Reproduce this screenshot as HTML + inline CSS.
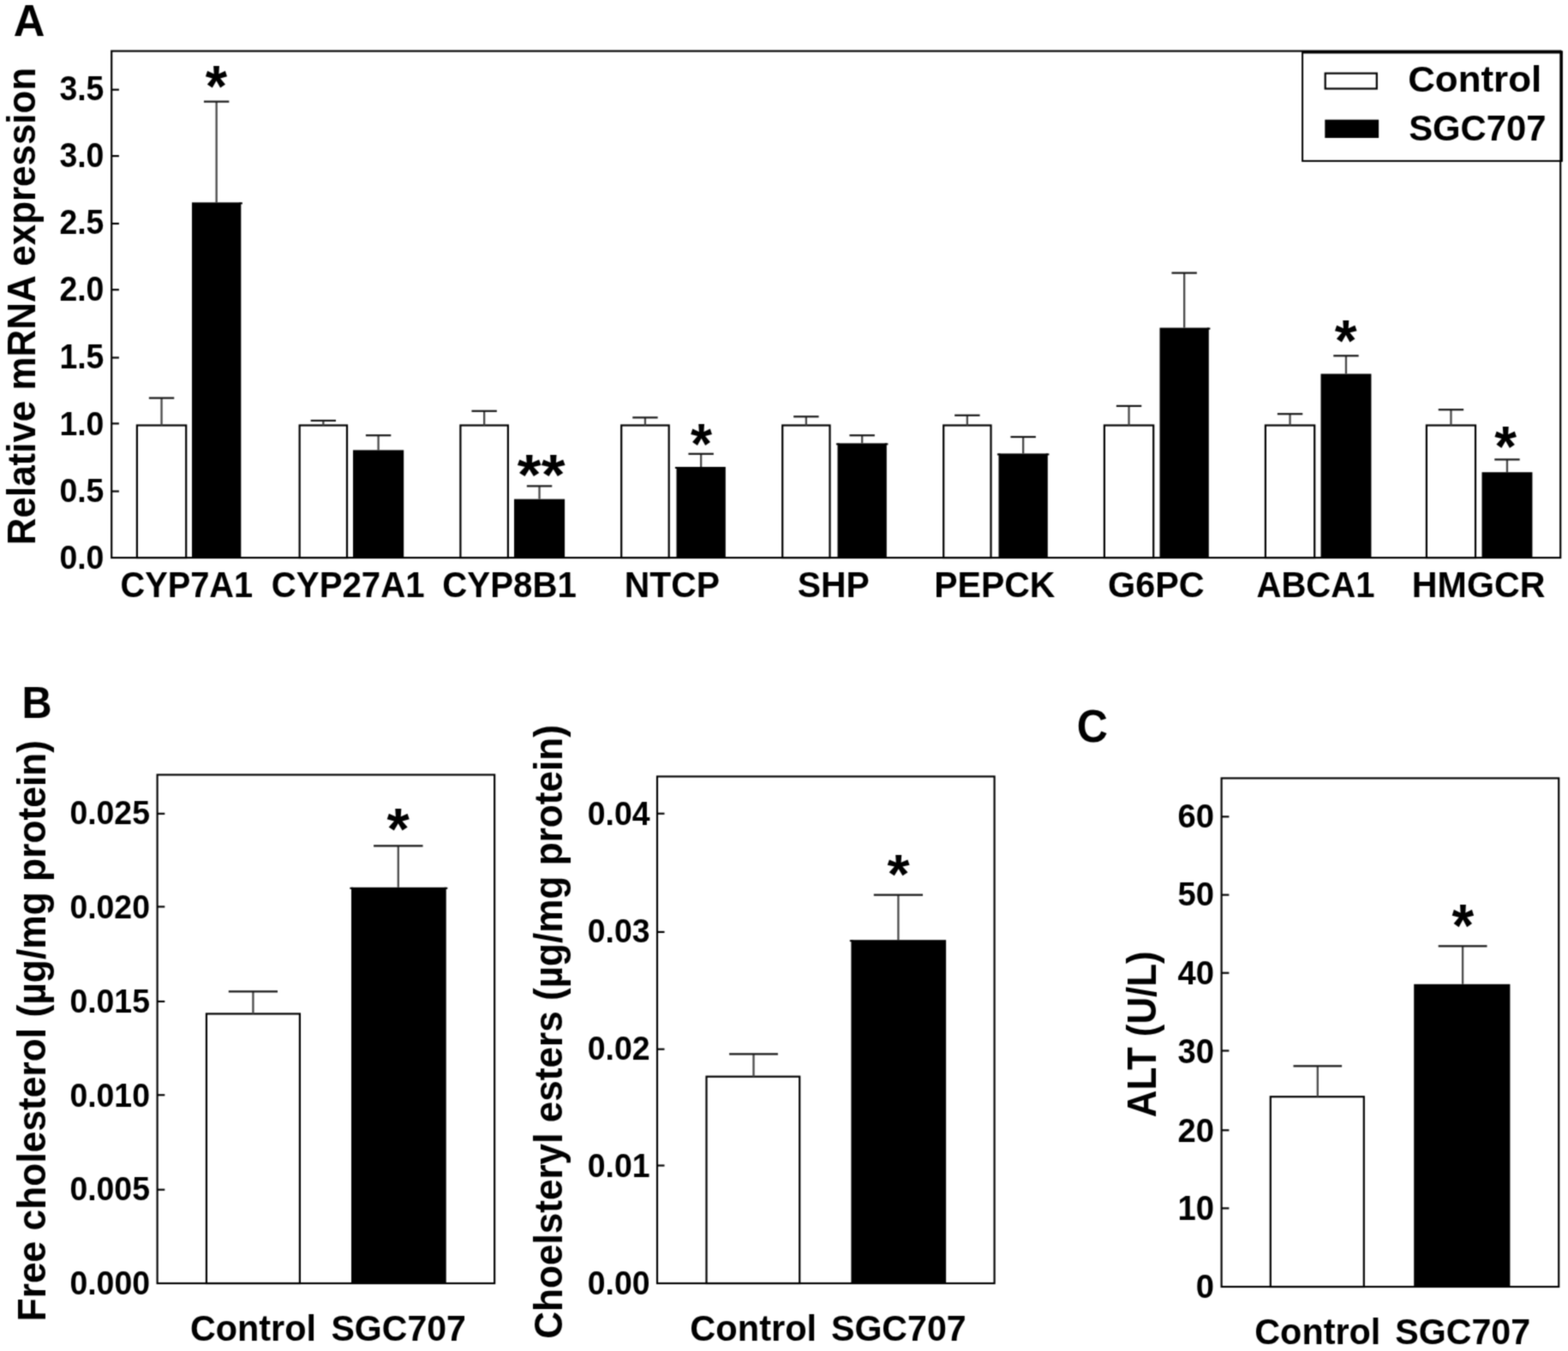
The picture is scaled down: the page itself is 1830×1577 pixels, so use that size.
<!DOCTYPE html>
<html><head><meta charset="utf-8"><title>Figure</title>
<style>html,body{margin:0;padding:0;background:#fff;}svg{display:block;}
text{font-family:"Liberation Sans", Arial, sans-serif;font-weight:bold;font-size:100px;fill:#000;}</style></head>
<body><svg width="1830" height="1577" viewBox="0 0 1830 1577">
<defs><filter id="soft" filterUnits="userSpaceOnUse" x="-10" y="-10" width="1850" height="1597" color-interpolation-filters="sRGB"><feConvolveMatrix order="3" kernelMatrix="0.0400 0.1200 0.0400 0.1200 0.3600 0.1200 0.0400 0.1200 0.0400" edgeMode="duplicate" preserveAlpha="true"/></filter></defs>
<rect width="1830" height="1577" fill="#fff"/>
<g filter="url(#soft)">
<rect x="-10" y="-10" width="1850" height="1597" fill="#fff"/>
<rect x="130.20" y="59.60" width="1691.00" height="591.40" fill="none" stroke="#000" stroke-width="2.15"/>
<line x1="130.20" y1="573.50" x2="138.90" y2="573.50" stroke="#000" stroke-width="2.15" stroke-linecap="butt"/>
<line x1="130.20" y1="494.40" x2="138.90" y2="494.40" stroke="#000" stroke-width="2.15" stroke-linecap="butt"/>
<line x1="130.20" y1="417.50" x2="138.90" y2="417.50" stroke="#000" stroke-width="2.15" stroke-linecap="butt"/>
<line x1="130.20" y1="338.20" x2="138.90" y2="338.20" stroke="#000" stroke-width="2.15" stroke-linecap="butt"/>
<line x1="130.20" y1="261.00" x2="138.90" y2="261.00" stroke="#000" stroke-width="2.15" stroke-linecap="butt"/>
<line x1="130.20" y1="182.10" x2="138.90" y2="182.10" stroke="#000" stroke-width="2.15" stroke-linecap="butt"/>
<line x1="130.20" y1="104.70" x2="138.90" y2="104.70" stroke="#000" stroke-width="2.15" stroke-linecap="butt"/>
<rect x="159.90" y="496.50" width="57.30" height="154.50" fill="#fff" stroke="#000" stroke-width="2.2"/>
<rect x="224.00" y="236.30" width="57.30" height="414.70" fill="#000" stroke="none" stroke-width="0"/>
<line x1="279.30" y1="237.30" x2="282.90" y2="237.30" stroke="#000" stroke-width="2.0" stroke-linecap="butt"/>
<line x1="188.55" y1="496.50" x2="188.55" y2="464.60" stroke="#484848" stroke-width="2.3" stroke-linecap="butt"/>
<line x1="173.85" y1="464.60" x2="203.25" y2="464.60" stroke="#161616" stroke-width="2.2" stroke-linecap="butt"/>
<line x1="252.65" y1="236.30" x2="252.65" y2="118.60" stroke="#484848" stroke-width="2.3" stroke-linecap="butt"/>
<line x1="237.95" y1="118.60" x2="267.35" y2="118.60" stroke="#161616" stroke-width="2.2" stroke-linecap="butt"/>
<rect x="349.65" y="496.50" width="55.35" height="154.50" fill="#fff" stroke="#000" stroke-width="2.2"/>
<rect x="412.00" y="525.40" width="59.20" height="125.60" fill="#000" stroke="none" stroke-width="0"/>
<line x1="377.33" y1="496.50" x2="377.33" y2="491.00" stroke="#484848" stroke-width="2.3" stroke-linecap="butt"/>
<line x1="362.63" y1="491.00" x2="392.03" y2="491.00" stroke="#161616" stroke-width="2.2" stroke-linecap="butt"/>
<line x1="441.60" y1="525.40" x2="441.60" y2="508.20" stroke="#484848" stroke-width="2.3" stroke-linecap="butt"/>
<line x1="426.90" y1="508.20" x2="456.30" y2="508.20" stroke="#161616" stroke-width="2.2" stroke-linecap="butt"/>
<rect x="537.40" y="496.50" width="55.50" height="154.50" fill="#fff" stroke="#000" stroke-width="2.2"/>
<rect x="600.00" y="582.60" width="59.10" height="68.40" fill="#000" stroke="none" stroke-width="0"/>
<line x1="565.15" y1="496.50" x2="565.15" y2="479.80" stroke="#484848" stroke-width="2.3" stroke-linecap="butt"/>
<line x1="550.45" y1="479.80" x2="579.85" y2="479.80" stroke="#161616" stroke-width="2.2" stroke-linecap="butt"/>
<line x1="629.55" y1="582.60" x2="629.55" y2="567.40" stroke="#484848" stroke-width="2.3" stroke-linecap="butt"/>
<line x1="614.85" y1="567.40" x2="644.25" y2="567.40" stroke="#161616" stroke-width="2.2" stroke-linecap="butt"/>
<rect x="725.20" y="496.50" width="55.50" height="154.50" fill="#fff" stroke="#000" stroke-width="2.2"/>
<rect x="789.50" y="545.00" width="57.30" height="106.00" fill="#000" stroke="none" stroke-width="0"/>
<line x1="787.90" y1="546.00" x2="791.50" y2="546.00" stroke="#000" stroke-width="2.0" stroke-linecap="butt"/>
<line x1="752.95" y1="496.50" x2="752.95" y2="487.40" stroke="#484848" stroke-width="2.3" stroke-linecap="butt"/>
<line x1="738.25" y1="487.40" x2="767.65" y2="487.40" stroke="#161616" stroke-width="2.2" stroke-linecap="butt"/>
<line x1="818.15" y1="545.00" x2="818.15" y2="529.80" stroke="#484848" stroke-width="2.3" stroke-linecap="butt"/>
<line x1="803.45" y1="529.80" x2="832.85" y2="529.80" stroke="#161616" stroke-width="2.2" stroke-linecap="butt"/>
<rect x="913.20" y="496.50" width="55.30" height="154.50" fill="#fff" stroke="#000" stroke-width="2.2"/>
<rect x="977.50" y="517.40" width="57.30" height="133.60" fill="#000" stroke="none" stroke-width="0"/>
<line x1="975.90" y1="518.40" x2="979.50" y2="518.40" stroke="#000" stroke-width="2.0" stroke-linecap="butt"/>
<line x1="1032.80" y1="518.40" x2="1036.40" y2="518.40" stroke="#000" stroke-width="2.0" stroke-linecap="butt"/>
<line x1="940.85" y1="496.50" x2="940.85" y2="486.30" stroke="#484848" stroke-width="2.3" stroke-linecap="butt"/>
<line x1="926.15" y1="486.30" x2="955.55" y2="486.30" stroke="#161616" stroke-width="2.2" stroke-linecap="butt"/>
<line x1="1006.15" y1="517.40" x2="1006.15" y2="508.20" stroke="#484848" stroke-width="2.3" stroke-linecap="butt"/>
<line x1="991.45" y1="508.20" x2="1020.85" y2="508.20" stroke="#161616" stroke-width="2.2" stroke-linecap="butt"/>
<rect x="1101.20" y="496.50" width="55.30" height="154.50" fill="#fff" stroke="#000" stroke-width="2.2"/>
<rect x="1165.50" y="529.40" width="57.30" height="121.60" fill="#000" stroke="none" stroke-width="0"/>
<line x1="1163.90" y1="530.40" x2="1167.50" y2="530.40" stroke="#000" stroke-width="2.0" stroke-linecap="butt"/>
<line x1="1220.80" y1="530.40" x2="1224.40" y2="530.40" stroke="#000" stroke-width="2.0" stroke-linecap="butt"/>
<line x1="1128.85" y1="496.50" x2="1128.85" y2="484.80" stroke="#484848" stroke-width="2.3" stroke-linecap="butt"/>
<line x1="1114.15" y1="484.80" x2="1143.55" y2="484.80" stroke="#161616" stroke-width="2.2" stroke-linecap="butt"/>
<line x1="1194.15" y1="529.40" x2="1194.15" y2="510.00" stroke="#484848" stroke-width="2.3" stroke-linecap="butt"/>
<line x1="1179.45" y1="510.00" x2="1208.85" y2="510.00" stroke="#161616" stroke-width="2.2" stroke-linecap="butt"/>
<rect x="1288.90" y="496.50" width="57.30" height="154.50" fill="#fff" stroke="#000" stroke-width="2.2"/>
<rect x="1353.50" y="382.60" width="57.30" height="268.40" fill="#000" stroke="none" stroke-width="0"/>
<line x1="1408.80" y1="383.60" x2="1412.40" y2="383.60" stroke="#000" stroke-width="2.0" stroke-linecap="butt"/>
<line x1="1317.55" y1="496.50" x2="1317.55" y2="473.90" stroke="#484848" stroke-width="2.3" stroke-linecap="butt"/>
<line x1="1302.85" y1="473.90" x2="1332.25" y2="473.90" stroke="#161616" stroke-width="2.2" stroke-linecap="butt"/>
<line x1="1382.15" y1="382.60" x2="1382.15" y2="318.60" stroke="#484848" stroke-width="2.3" stroke-linecap="butt"/>
<line x1="1367.45" y1="318.60" x2="1396.85" y2="318.60" stroke="#161616" stroke-width="2.2" stroke-linecap="butt"/>
<rect x="1476.90" y="496.50" width="57.30" height="154.50" fill="#fff" stroke="#000" stroke-width="2.2"/>
<rect x="1541.50" y="436.40" width="58.90" height="214.60" fill="#000" stroke="none" stroke-width="0"/>
<line x1="1505.55" y1="496.50" x2="1505.55" y2="483.20" stroke="#484848" stroke-width="2.3" stroke-linecap="butt"/>
<line x1="1490.85" y1="483.20" x2="1520.25" y2="483.20" stroke="#161616" stroke-width="2.2" stroke-linecap="butt"/>
<line x1="1570.95" y1="436.40" x2="1570.95" y2="415.30" stroke="#484848" stroke-width="2.3" stroke-linecap="butt"/>
<line x1="1556.25" y1="415.30" x2="1585.65" y2="415.30" stroke="#161616" stroke-width="2.2" stroke-linecap="butt"/>
<rect x="1664.90" y="496.50" width="57.10" height="154.50" fill="#fff" stroke="#000" stroke-width="2.2"/>
<rect x="1729.50" y="551.20" width="58.90" height="99.80" fill="#000" stroke="none" stroke-width="0"/>
<line x1="1693.45" y1="496.50" x2="1693.45" y2="478.20" stroke="#484848" stroke-width="2.3" stroke-linecap="butt"/>
<line x1="1678.75" y1="478.20" x2="1708.15" y2="478.20" stroke="#161616" stroke-width="2.2" stroke-linecap="butt"/>
<line x1="1758.95" y1="551.20" x2="1758.95" y2="536.40" stroke="#484848" stroke-width="2.3" stroke-linecap="butt"/>
<line x1="1744.25" y1="536.40" x2="1773.65" y2="536.40" stroke="#161616" stroke-width="2.2" stroke-linecap="butt"/>
<rect x="1520.10" y="60.50" width="302.10" height="127.40" fill="#fff" stroke="#000" stroke-width="2"/>
<line x1="1520.10" y1="61.00" x2="1823.50" y2="61.00" stroke="#000" stroke-width="3.2" stroke-linecap="butt"/>
<line x1="1822.10" y1="59.50" x2="1822.10" y2="188.80" stroke="#000" stroke-width="3.6" stroke-linecap="butt"/>
<rect x="1546.70" y="85.60" width="60.10" height="17.90" fill="#fff" stroke="#000" stroke-width="2.2"/>
<rect x="1546.30" y="139.70" width="62.80" height="21.30" fill="#000" stroke="none" stroke-width="0"/>
<rect x="183.60" y="904.40" width="393.55" height="593.60" fill="none" stroke="#000" stroke-width="2.15"/>
<line x1="183.60" y1="1388.70" x2="192.30" y2="1388.70" stroke="#000" stroke-width="2.15" stroke-linecap="butt"/>
<line x1="183.60" y1="1278.20" x2="192.30" y2="1278.20" stroke="#000" stroke-width="2.15" stroke-linecap="butt"/>
<line x1="183.60" y1="1169.00" x2="192.30" y2="1169.00" stroke="#000" stroke-width="2.15" stroke-linecap="butt"/>
<line x1="183.60" y1="1058.40" x2="192.30" y2="1058.40" stroke="#000" stroke-width="2.15" stroke-linecap="butt"/>
<line x1="183.60" y1="949.80" x2="192.30" y2="949.80" stroke="#000" stroke-width="2.15" stroke-linecap="butt"/>
<rect x="240.95" y="1183.40" width="108.95" height="314.60" fill="#fff" stroke="#000" stroke-width="2.2"/>
<rect x="410.00" y="1035.80" width="110.70" height="462.20" fill="#000" stroke="none" stroke-width="0"/>
<line x1="408.40" y1="1036.80" x2="412.00" y2="1036.80" stroke="#000" stroke-width="2.0" stroke-linecap="butt"/>
<line x1="518.70" y1="1036.80" x2="522.30" y2="1036.80" stroke="#000" stroke-width="2.0" stroke-linecap="butt"/>
<line x1="295.40" y1="1183.40" x2="295.40" y2="1157.30" stroke="#484848" stroke-width="2.3" stroke-linecap="butt"/>
<line x1="266.80" y1="1157.30" x2="324.00" y2="1157.30" stroke="#161616" stroke-width="2.2" stroke-linecap="butt"/>
<line x1="464.80" y1="1035.80" x2="464.80" y2="987.40" stroke="#484848" stroke-width="2.3" stroke-linecap="butt"/>
<line x1="436.10" y1="987.40" x2="493.50" y2="987.40" stroke="#161616" stroke-width="2.2" stroke-linecap="butt"/>
<rect x="767.00" y="906.40" width="393.60" height="591.60" fill="none" stroke="#000" stroke-width="2.15"/>
<line x1="767.00" y1="1360.50" x2="775.50" y2="1360.50" stroke="#000" stroke-width="2.15" stroke-linecap="butt"/>
<line x1="767.00" y1="1224.70" x2="775.50" y2="1224.70" stroke="#000" stroke-width="2.15" stroke-linecap="butt"/>
<line x1="767.00" y1="1087.90" x2="775.50" y2="1087.90" stroke="#000" stroke-width="2.15" stroke-linecap="butt"/>
<line x1="767.00" y1="949.70" x2="775.50" y2="949.70" stroke="#000" stroke-width="2.15" stroke-linecap="butt"/>
<rect x="824.50" y="1256.70" width="108.70" height="241.30" fill="#fff" stroke="#000" stroke-width="2.2"/>
<rect x="993.40" y="1097.20" width="110.70" height="400.80" fill="#000" stroke="none" stroke-width="0"/>
<line x1="991.80" y1="1098.20" x2="995.40" y2="1098.20" stroke="#000" stroke-width="2.0" stroke-linecap="butt"/>
<line x1="879.50" y1="1256.70" x2="879.50" y2="1230.30" stroke="#484848" stroke-width="2.3" stroke-linecap="butt"/>
<line x1="851.10" y1="1230.30" x2="907.90" y2="1230.30" stroke="#161616" stroke-width="2.2" stroke-linecap="butt"/>
<line x1="1048.40" y1="1097.20" x2="1048.40" y2="1044.70" stroke="#484848" stroke-width="2.3" stroke-linecap="butt"/>
<line x1="1019.80" y1="1044.70" x2="1077.00" y2="1044.70" stroke="#161616" stroke-width="2.2" stroke-linecap="butt"/>
<rect x="1425.60" y="908.40" width="393.60" height="593.60" fill="none" stroke="#000" stroke-width="2.15"/>
<line x1="1425.60" y1="1410.40" x2="1434.40" y2="1410.40" stroke="#000" stroke-width="2.15" stroke-linecap="butt"/>
<line x1="1425.60" y1="1319.30" x2="1434.40" y2="1319.30" stroke="#000" stroke-width="2.15" stroke-linecap="butt"/>
<line x1="1425.60" y1="1226.50" x2="1434.40" y2="1226.50" stroke="#000" stroke-width="2.15" stroke-linecap="butt"/>
<line x1="1425.60" y1="1135.70" x2="1434.40" y2="1135.70" stroke="#000" stroke-width="2.15" stroke-linecap="butt"/>
<line x1="1425.60" y1="1044.60" x2="1434.40" y2="1044.60" stroke="#000" stroke-width="2.15" stroke-linecap="butt"/>
<line x1="1425.60" y1="953.30" x2="1434.40" y2="953.30" stroke="#000" stroke-width="2.15" stroke-linecap="butt"/>
<rect x="1482.80" y="1280.20" width="109.00" height="221.80" fill="#fff" stroke="#000" stroke-width="2.2"/>
<rect x="1650.20" y="1148.80" width="112.20" height="353.20" fill="#000" stroke="none" stroke-width="0"/>
<line x1="1537.80" y1="1280.20" x2="1537.80" y2="1244.30" stroke="#484848" stroke-width="2.3" stroke-linecap="butt"/>
<line x1="1509.50" y1="1244.30" x2="1566.10" y2="1244.30" stroke="#161616" stroke-width="2.2" stroke-linecap="butt"/>
<line x1="1707.10" y1="1148.80" x2="1707.10" y2="1104.30" stroke="#484848" stroke-width="2.3" stroke-linecap="butt"/>
<line x1="1678.70" y1="1104.30" x2="1735.50" y2="1104.30" stroke="#161616" stroke-width="2.2" stroke-linecap="butt"/>
<text transform="matrix(0.43924 0 0 0.42174 1643.14 107.40)">Control</text>
<text transform="matrix(0.41809 0 0 0.43333 1644.15 164.30)">SGC707</text>
<text transform="matrix(0.37405 0 0 0.39577 69.40 663.90)">0.0</text>
<text transform="matrix(0.37405 0 0 0.39507 69.40 586.35)">0.5</text>
<text transform="matrix(0.37405 0 0 0.39155 69.40 507.51)">1.0</text>
<text transform="matrix(0.37405 0 0 0.40000 69.40 429.50)">1.5</text>
<text transform="matrix(0.37405 0 0 0.40000 69.40 351.40)">2.0</text>
<text transform="matrix(0.37405 0 0 0.40282 69.40 273.40)">2.5</text>
<text transform="matrix(0.37405 0 0 0.39930 69.40 195.20)">3.0</text>
<text transform="matrix(0.37405 0 0 0.40000 69.40 116.60)">3.5</text>
<text transform="matrix(0.50758 0 0 0.52647 15.78 41.73)">A</text>
<text transform="matrix(0 -0.43933 0.46366 0 41.10 636.18)">Relative mRNA expression</text>
<text transform="matrix(0.39791 0 0 0.42464 140.41 697.30)">CYP7A1</text>
<text transform="matrix(0.40228 0 0 0.42464 316.79 697.30)">CYP27A1</text>
<text transform="matrix(0.40236 0 0 0.42464 516.29 697.30)">CYP8B1</text>
<text transform="matrix(0.40878 0 0 0.42464 728.84 697.30)">NTCP</text>
<text transform="matrix(0.40854 0 0 0.42464 930.77 697.30)">SHP</text>
<text transform="matrix(0.40982 0 0 0.42464 1090.23 697.30)">PEPCK</text>
<text transform="matrix(0.41396 0 0 0.42464 1292.94 697.30)">G6PC</text>
<text transform="matrix(0.40059 0 0 0.42464 1466.50 697.30)">ABCA1</text>
<text transform="matrix(0.41196 0 0 0.42464 1647.82 697.30)">HMGCR</text>
<text transform="matrix(0.65128 0 0 0.68649 239.70 123.87)">*</text>
<text transform="matrix(0.71538 0 0 0.65946 603.80 576.90)">**</text>
<text transform="matrix(0.64359 0 0 0.67297 806.00 540.64)">*</text>
<text transform="matrix(0.66410 0 0 0.67838 1557.70 420.81)">*</text>
<text transform="matrix(0.66154 0 0 0.67297 1744.20 544.14)">*</text>
<text transform="matrix(0.67692 0 0 0.68378 451.50 990.98)">*</text>
<text transform="matrix(0.41366 0 0 0.42609 221.95 1564.80)">Control</text>
<text transform="matrix(0.41064 0 0 0.42609 386.47 1564.80)">SGC707</text>
<text transform="matrix(0.37397 0 0 0.39577 81.40 1510.90)">0.000</text>
<text transform="matrix(0.37397 0 0 0.39155 81.40 1400.91)">0.005</text>
<text transform="matrix(0.37397 0 0 0.39718 81.40 1291.50)">0.010</text>
<text transform="matrix(0.37397 0 0 0.39296 81.40 1181.61)">0.015</text>
<text transform="matrix(0.37397 0 0 0.38873 81.40 1071.91)">0.020</text>
<text transform="matrix(0.37397 0 0 0.39648 81.40 961.75)">0.025</text>
<text transform="matrix(0 -0.44368 0.46643 0 53.10 1542.41)">Free cholesterol (µg/mg protein)</text>
<text transform="matrix(0.48689 0 0 0.52029 25.49 837.60)">B</text>
<text transform="matrix(0.67179 0 0 0.64865 1035.60 1043.36)">*</text>
<text transform="matrix(0.41570 0 0 0.42754 805.34 1565.40)">Control</text>
<text transform="matrix(0.41117 0 0 0.42754 969.97 1565.40)">SGC707</text>
<text transform="matrix(0.37419 0 0 0.39014 685.70 1511.01)">0.00</text>
<text transform="matrix(0.37419 0 0 0.39437 685.70 1374.31)">0.01</text>
<text transform="matrix(0.37419 0 0 0.39437 685.70 1237.21)">0.02</text>
<text transform="matrix(0.37419 0 0 0.39718 685.70 1099.95)">0.03</text>
<text transform="matrix(0.37419 0 0 0.38873 685.70 962.61)">0.04</text>
<text transform="matrix(0 -0.44134 0.46643 0 656.20 1562.87)">Choelsteryl esters (µg/mg protein)</text>
<text transform="matrix(0.65897 0 0 0.70270 1694.50 1104.59)">*</text>
<text transform="matrix(0.41366 0 0 0.43043 1464.25 1568.90)">Control</text>
<text transform="matrix(0.41170 0 0 0.43043 1628.26 1568.90)">SGC707</text>
<text transform="matrix(0.38252 0 0 0.38592 1395.74 1515.21)">0</text>
<text transform="matrix(0.38252 0 0 0.39859 1374.47 1423.50)">10</text>
<text transform="matrix(0.38252 0 0 0.38592 1374.47 1332.61)">20</text>
<text transform="matrix(0.38252 0 0 0.40141 1374.47 1240.60)">30</text>
<text transform="matrix(0.38252 0 0 0.39437 1374.47 1148.81)">40</text>
<text transform="matrix(0.38252 0 0 0.38028 1374.47 1056.72)">50</text>
<text transform="matrix(0.38252 0 0 0.39296 1374.47 965.81)">60</text>
<text transform="matrix(0 -0.43816 0.48551 0 1348.50 1304.21)">ALT (U/L)</text>
<text transform="matrix(0.50154 0 0 0.54085 1256.79 866.26)">C</text>
</g>
</svg></body></html>
